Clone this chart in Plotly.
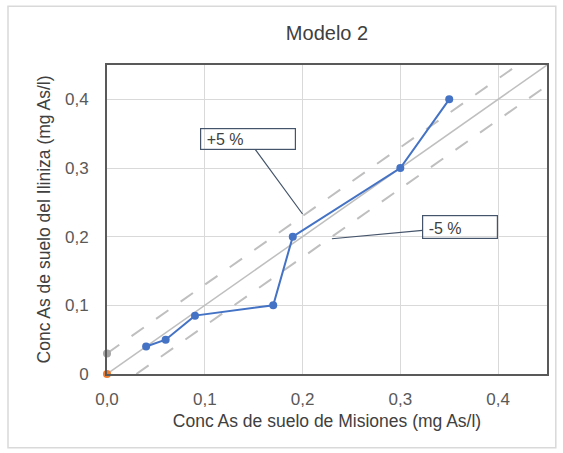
import plotly.graph_objects as go

# datos del modelo 2
misiones = [0.04, 0.06, 0.09, 0.17, 0.19, 0.30, 0.35]
ilinza = [0.04, 0.05, 0.085, 0.10, 0.20, 0.30, 0.40]

origen_x = [0.0]
origen_y = [0.0]
inicio_x = [0.0]
inicio_y = [0.03]

# linea 1:1 y bandas de +/- 5 %
linea_x = [0.0, 0.45]
linea_y = [0.0, 0.45]
sup_x = [0.0, 0.42]
sup_y = [0.03, 0.45]
inf_x = [0.03, 0.45]
inf_y = [0.0, 0.42]

tick_vals = [0.0, 0.1, 0.2, 0.3, 0.4]
x_ticks = ['0,0', '0,1', '0,2', '0,3', '0,4']
y_ticks = ['0', '0,1', '0,2', '0,3', '0,4']

fnt = 'Liberation Sans, Arial, sans-serif'
gris = '#595959'

fig = go.Figure()
fig.add_trace(go.Scatter(x=linea_x, y=linea_y, mode='lines', line=dict(color='#BFBFBF', width=1.5), hoverinfo='skip'))
fig.add_trace(go.Scatter(x=sup_x, y=sup_y, mode='lines', line=dict(color='#BFBFBF', width=2, dash='longdash'), hoverinfo='skip'))
fig.add_trace(go.Scatter(x=inf_x, y=inf_y, mode='lines', line=dict(color='#BFBFBF', width=2, dash='longdash'), hoverinfo='skip'))
fig.add_trace(go.Scatter(x=misiones, y=ilinza, mode='lines+markers', line=dict(color='#4472C4', width=2),
                         marker=dict(color='#4472C4', size=8)))
fig.add_trace(go.Scatter(x=inicio_x, y=inicio_y, mode='markers', marker=dict(color='#A5A5A5', size=8), cliponaxis=False))
fig.add_trace(go.Scatter(x=origen_x, y=origen_y, mode='markers', marker=dict(color='#ED7D31', size=8), cliponaxis=False))

# etiquetas +5 % y -5 %
fig.add_annotation(x=0.2, y=0.233, ax=0.144, ay=0.342, axref='x', ayref='y', text='&nbsp;+5 %',
                   showarrow=True, arrowhead=0, arrowwidth=1.2, arrowcolor='#44546A',
                   bordercolor='#44546A', borderwidth=1.2, width=92, height=18, align='left', valign='bottom',
                   font=dict(family=fnt, size=16, color='#404040'))
fig.add_annotation(x=0.23, y=0.197, ax=0.361, ay=0.214, axref='x', ayref='y', text='&nbsp;-5 %',
                   showarrow=True, arrowhead=0, arrowwidth=1.2, arrowcolor='#44546A',
                   bordercolor='#44546A', borderwidth=1.2, width=72, height=20, align='left', valign='bottom',
                   font=dict(family=fnt, size=16, color='#404040'))

# borde exterior del grafico
fig.add_shape(type='rect', xref='paper', yref='paper', x0=-0.225, x1=1.02, y0=-0.239, y1=1.19,
              line=dict(color='#D9D9D9', width=1.5), layer='below')

fig.update_layout(
    width=563, height=453,
    margin=dict(l=107, r=16, t=65, b=79),
    paper_bgcolor='white', plot_bgcolor='white',
    showlegend=False,
    font=dict(family=fnt, size=17, color=gris),
    title=dict(text='Modelo 2', x=0.5, xref='paper', y=0.927, yref='container', xanchor='center', yanchor='middle',
               font=dict(family=fnt, size=20, color='#404040')),
)
fig.update_xaxes(range=[0, 0.45], tickvals=tick_vals, ticktext=x_ticks,
                 showgrid=True, gridcolor='#D9D9D9', gridwidth=1, zeroline=False,
                 showline=True, linecolor=gris, linewidth=2, mirror=True,
                 ticks='outside', ticklen=9, tickcolor='rgba(0,0,0,0)',
                 title=dict(text='Conc As de suelo de Misiones (mg As/l)', standoff=6,
                            font=dict(family=fnt, size=17.5, color='#404040')))
fig.update_yaxes(range=[0, 0.45], tickvals=tick_vals, ticktext=y_ticks,
                 showgrid=True, gridcolor='#D9D9D9', gridwidth=1, zeroline=False,
                 showline=True, linecolor=gris, linewidth=2, mirror=True,
                 ticks='outside', ticklen=13, tickcolor='rgba(0,0,0,0)',
                 title=dict(text='Conc As de suelo del Iliniza (mg As/l)', standoff=10,
                            font=dict(family=fnt, size=17.5, color='#404040')))

fig.write_html('out.html', config={'displayModeBar': False},
               post_script="document.body.style.margin='0';")
